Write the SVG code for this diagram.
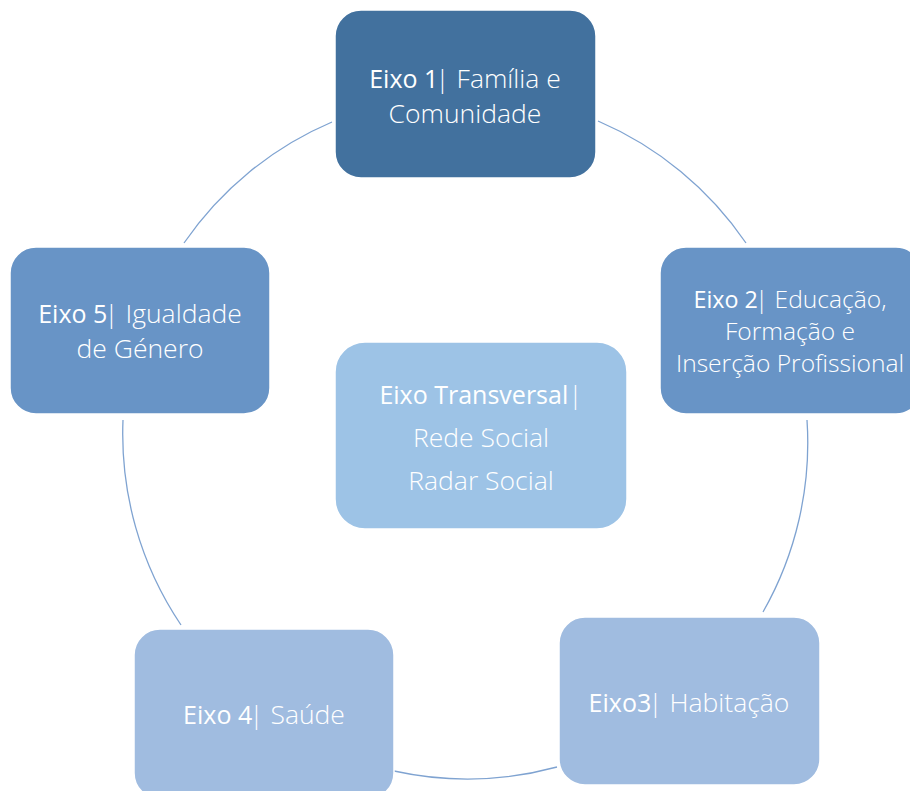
<svg xmlns="http://www.w3.org/2000/svg" width="910" height="791" viewBox="0 0 910 791">
<style>
.arc{fill:none;stroke:#7FA3D1;stroke-width:1.3}
.box{stroke:#ffffff;stroke-width:1.5}
text{font-family:"Open Sans","Liberation Sans",sans-serif;font-size:26.5px;fill:#ffffff;text-anchor:middle}
.l{font-weight:300}
.b{font-weight:400;font-size:25px}
.s{font-size:24.6px}
.s .b{font-size:23.3px}
</style>
<rect width="910" height="791" fill="#ffffff"/>
<g id="connectors">
<path class="arc" d="M598,121 A342,342 0 0 1 746,243"/>
<path class="arc" d="M807,420 A342,342 0 0 1 763,612"/>
<path class="arc" d="M557,767 A342,342 0 0 1 394,771"/>
<path class="arc" d="M181,625 A342,342 0 0 1 123,420"/>
<path class="arc" d="M184,243 A342,342 0 0 1 332,122"/>
</g>
<g id="node1">
<rect class="box" x="335" y="10" width="261" height="168" rx="26" fill="#42719E"/>
<text x="465" y="88"><tspan class="b">Eixo 1</tspan><tspan class="l" dx="-3">| Família e</tspan></text>
<text x="465" y="123" class="l">Comunidade</text>
</g>
<g id="node2">
<rect class="box" x="660" y="247" width="262" height="167" rx="26" fill="#6894C6"/>
<text x="790" y="308" class="s"><tspan class="b">Eixo 2</tspan><tspan class="l" dx="-3">| Educação,</tspan></text>
<text x="790" y="340" class="s l">Formação e</text>
<text x="790" y="372" class="s l">Inserção Profissional</text>
</g>
<g id="node3">
<rect class="box" x="559" y="617" width="261" height="168" rx="26" fill="#A0BCE0"/>
<text x="689" y="712"><tspan class="b">Eixo3</tspan><tspan class="l" dx="-3">| Habitação</tspan></text>
</g>
<g id="node4">
<rect class="box" x="134" y="629" width="260" height="170" rx="26" fill="#A0BCE0"/>
<text x="264" y="724"><tspan class="b">Eixo 4</tspan><tspan class="l" dx="-3">| Saúde</tspan></text>
</g>
<g id="node5">
<rect class="box" x="10" y="247" width="260" height="167" rx="26" fill="#6894C6"/>
<text x="140" y="323"><tspan class="b">Eixo 5</tspan><tspan class="l" dx="-3">| Igualdade</tspan></text>
<text x="140" y="358" class="l">de Género</text>
</g>
<g id="node6">
<rect class="box" x="335" y="342" width="292" height="187" rx="30" fill="#9DC3E6"/>
<text x="481" y="404"><tspan class="b">Eixo Transversal</tspan><tspan class="l">|</tspan></text>
<text x="481" y="447" class="l">Rede Social</text>
<text x="481" y="490" class="l">Radar Social</text>
</g>
</svg>
